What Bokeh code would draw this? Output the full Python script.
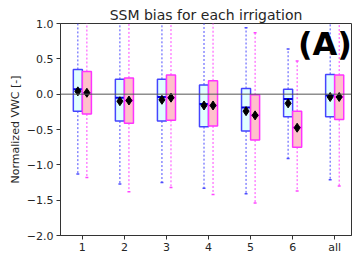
from bokeh.plotting import figure
from bokeh.models import ColumnDataSource, FixedTicker, Range1d, Label, Span
from bokeh.embed import file_html
from bokeh.resources import INLINE

groups = ["1", "2", "3", "4", "5", "6", "all"]
xpos = [1, 2, 3, 4, 5, 6, 7]

blue_q1 = [-0.24, -0.38, -0.38, -0.46, -0.52, -0.32, -0.32]
blue_q3 = [0.35, 0.21, 0.21, 0.13, 0.08, 0.07, 0.28]
blue_med = [0.07, -0.05, -0.04, -0.14, -0.19, -0.07, -0.02]
blue_mean = [0.04, -0.10, -0.08, -0.16, -0.24, -0.13, -0.04]
blue_lo = [-1.13, -1.27, -1.25, -1.33, -1.41, -0.91, -1.21]
blue_hi = [1.3, 1.3, 1.3, 1.3, 0.94, 0.64, 1.3]

pink_q1 = [-0.28, -0.41, -0.37, -0.45, -0.65, -0.75, -0.36]
pink_q3 = [0.32, 0.23, 0.27, 0.19, -0.01, -0.24, 0.27]
pink_med = [0.01, -0.09, -0.05, -0.16, -0.30, -0.47, -0.04]
pink_mean = [0.02, -0.09, -0.05, -0.16, -0.30, -0.475, -0.04]
pink_lo = [-1.18, -1.38, -1.32, -1.42, -1.54, -1.37, -1.30]
pink_hi = [1.3, 1.3, 1.3, 1.3, 0.87, 0.47, 1.3]

FONT = "DejaVu Sans"
TXT = "#262626"

p = figure(width=355, height=256, output_backend="svg", toolbar_location=None,
           x_range=Range1d(0.48, 7.40), y_range=Range1d(-2.0, 1.0),
           min_border_left=60, min_border_right=4, min_border_top=23, min_border_bottom=18,
           title="SSM bias for each irrigation")
p.title.text_font = FONT
p.title.text_font_size = "14px"
p.title.text_font_style = "normal"
p.title.text_color = TXT
p.title.align = "center"
p.title.standoff = 1

p.xgrid.visible = False
p.ygrid.visible = False
p.outline_line_color = "#333333"
p.outline_line_width = 1

for ax in (p.xaxis, p.yaxis):
    ax.major_label_text_font = FONT
    ax.major_label_text_font_size = "11px"
    ax.major_label_text_color = TXT
    ax.axis_line_color = "#333333"
    ax.major_tick_line_color = "#333333"
    ax.major_tick_out = 4
    ax.major_tick_in = 0
    ax.minor_tick_line_color = None
p.yaxis.major_label_standoff = 3
p.xaxis.major_label_standoff = 1

p.xaxis.ticker = FixedTicker(ticks=xpos)
p.xaxis.major_label_overrides = {x: g for x, g in zip(xpos, groups)}
p.yaxis.ticker = FixedTicker(ticks=[-2.0, -1.5, -1.0, -0.5, 0.0, 0.5, 1.0])
p.yaxis.major_label_overrides = {-2.0: "\u22122.0", -1.5: "\u22121.5", -1.0: "\u22121.0",
                                 -0.5: "\u22120.5", 0.0: "0.0", 0.5: "0.5", 1.0: "1.0"}
p.yaxis.axis_label = "Normalized VWC [-]"
p.yaxis.axis_label_text_font = FONT
p.yaxis.axis_label_text_font_size = "11px"
p.yaxis.axis_label_text_font_style = "normal"
p.yaxis.axis_label_text_color = TXT
p.yaxis.axis_label_standoff = 2

p.add_layout(Span(location=0, dimension="width", line_color="#555555", line_width=1))

W = 0.215
CAP = 0.035


def draw(offset, q1, q3, med, mean, lo, hi, edge, fill, whisk, medc):
    xc = [x + offset for x in xpos]
    src = ColumnDataSource(dict(
        left=[x - W / 2 for x in xc], right=[x + W / 2 for x in xc],
        xc=xc, q1=q1, q3=q3, med=med, mean=mean, lo=lo, hi=hi,
        cl=[x - CAP for x in xc], cr=[x + CAP for x in xc]))
    p.segment(x0="xc", y0="q3", x1="xc", y1="hi", source=src, line_color=whisk,
              line_width=1, line_dash="2 2")
    p.segment(x0="xc", y0="q1", x1="xc", y1="lo", source=src, line_color=whisk,
              line_width=1, line_dash="2 2")
    p.segment(x0="cl", y0="hi", x1="cr", y1="hi", source=src, line_color=whisk, line_width=1.5)
    p.segment(x0="cl", y0="lo", x1="cr", y1="lo", source=src, line_color=whisk, line_width=1.5)
    p.quad(left="left", right="right", bottom="q1", top="q3", source=src,
           fill_color=fill, line_color=edge, line_width=1.5)
    p.segment(x0="left", y0="med", x1="right", y1="med", source=src, line_color=medc, line_width=2)
    p.scatter(x="xc", y="mean", source=src, marker="diamond", size=9,
              fill_color="black", line_color="black")


draw(-W / 2, blue_q1, blue_q3, blue_med, blue_mean, blue_lo, blue_hi,
     "#4444ff", "#e0ffff", "#4d4dff", "#0000dd")
draw(W / 2, pink_q1, pink_q3, pink_med, pink_mean, pink_lo, pink_hi,
     "#ff33ff", "#ffc0cb", "#ff44ff", "#ff22ff")

p.add_layout(Label(x=7.41, y=0.71, text="(A)", text_align="right", text_baseline="alphabetic",
                   text_font=FONT, text_font_size="32px", text_font_style="bold",
                   text_color="black"))

open("out.html", "w").write(file_html(p, INLINE))
